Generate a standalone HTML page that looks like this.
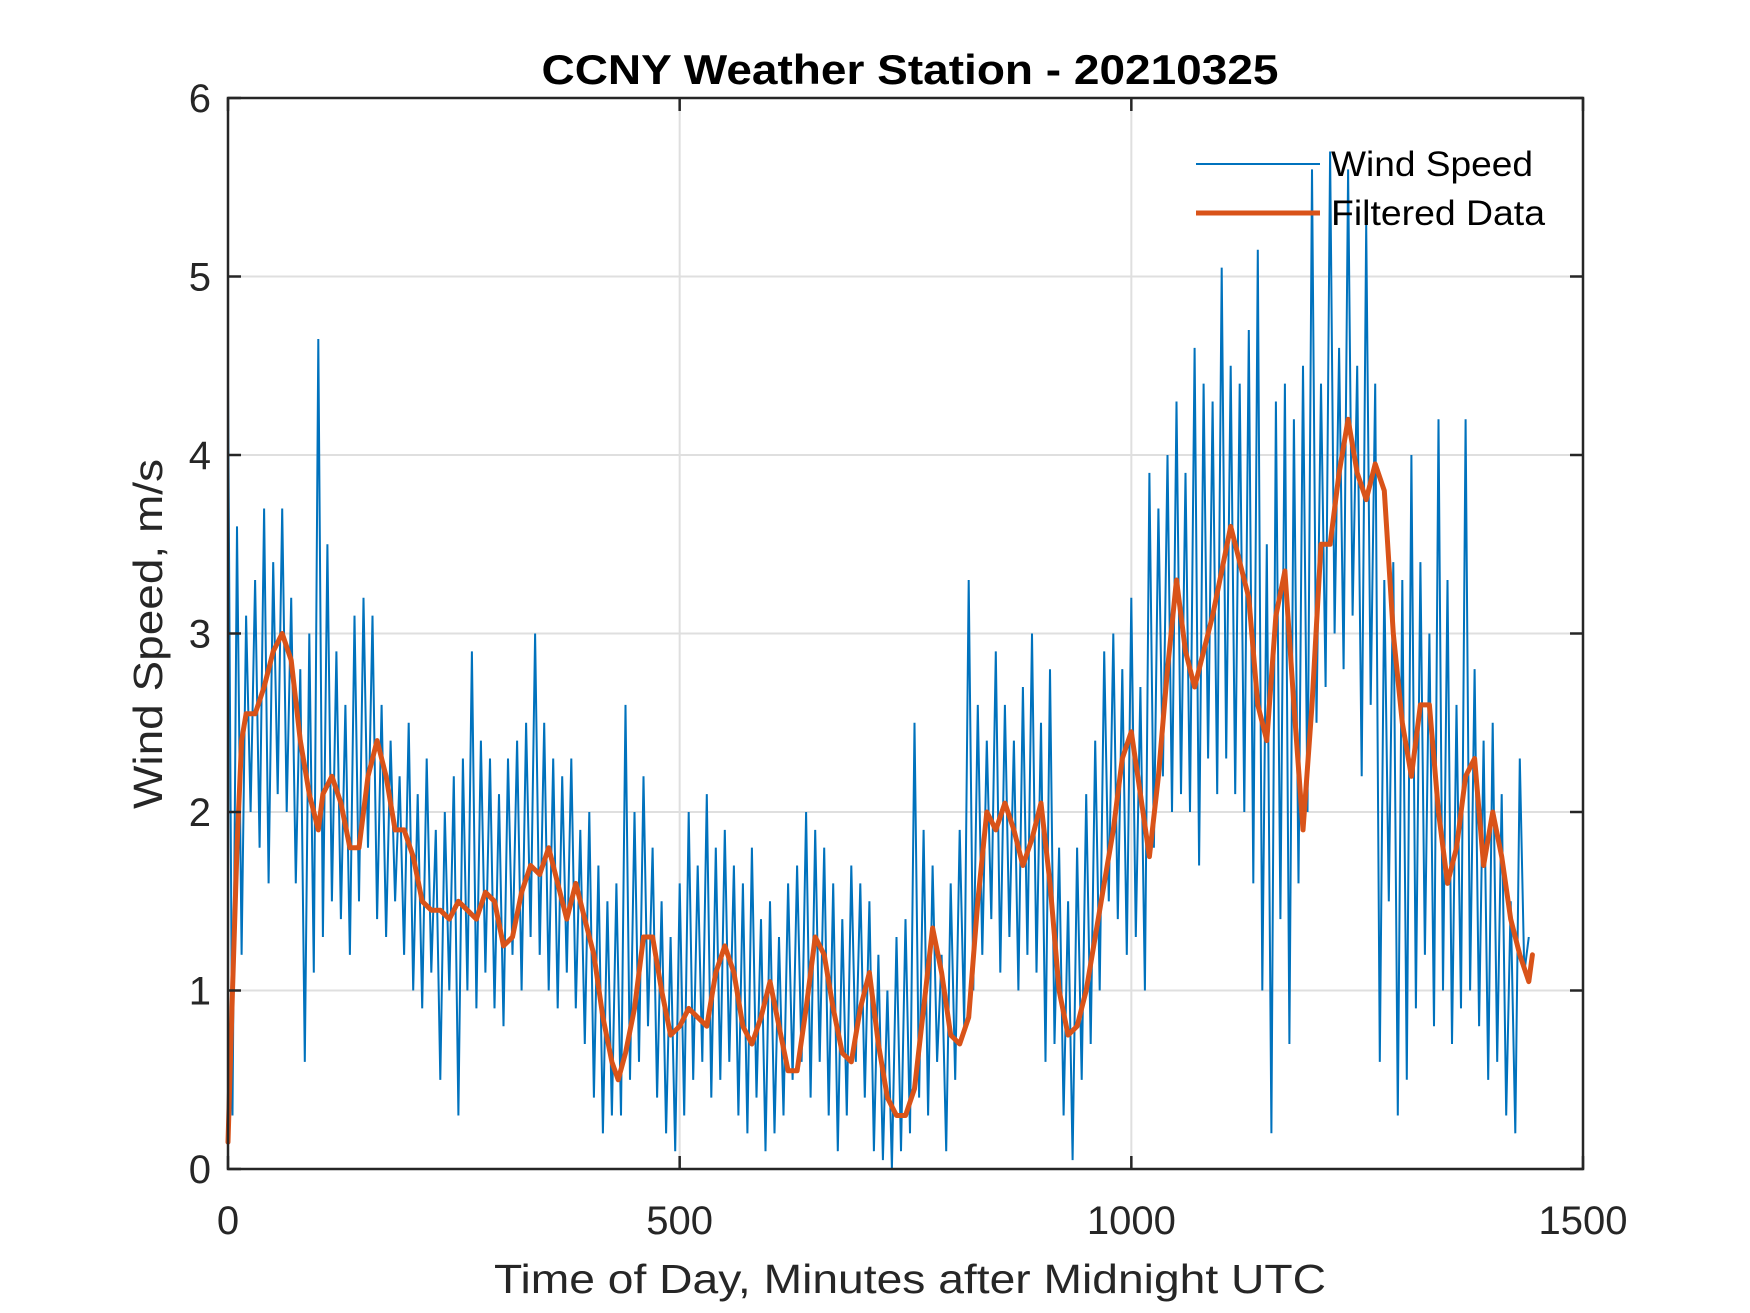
<!DOCTYPE html>
<html><head><meta charset="utf-8"><style>
html,body{margin:0;padding:0;background:#fff;}
svg{display:block;font-family:"Liberation Sans",Arial,sans-serif;}
</style></head><body>
<svg id="chart" width="1750" height="1313" viewBox="0 0 1750 1313">
<rect x="0" y="0" width="1750" height="1313" fill="#fff"/>
<g id="grid"></g>
<g id="series"></g>
<g id="axes"></g>
<text x="910" y="84" text-anchor="middle" font-weight="bold" font-size="42" textLength="737" lengthAdjust="spacingAndGlyphs">CCNY Weather Station - 20210325</text>
<text x="910" y="1293" text-anchor="middle" font-size="41" fill="#262626" textLength="832" lengthAdjust="spacingAndGlyphs">Time of Day, Minutes after Midnight UTC</text>
<text transform="translate(162,634) rotate(-90)" text-anchor="middle" font-size="41" fill="#262626" textLength="350" lengthAdjust="spacingAndGlyphs">Wind Speed, m/s</text>
<g>
<line x1="1196" y1="164" x2="1320" y2="164" stroke="#0072BD" stroke-width="2"/>
<text x="1331" y="176" font-size="35" textLength="202" lengthAdjust="spacingAndGlyphs">Wind Speed</text>
<line x1="1196" y1="213" x2="1320" y2="213" stroke="#D95319" stroke-width="5"/>
<text x="1331" y="225" font-size="35" textLength="214" lengthAdjust="spacingAndGlyphs">Filtered Data</text>
</g>
</svg>
<script>
const rawStep = 5;
const rawValues = [
4.4,0.3,3.6,1.2,3.1,2.0,3.3,1.8,3.7,1.6,
3.4,2.1,3.7,2.0,3.2,1.6,2.8,0.6,3.0,1.1,
4.65,1.3,3.5,1.5,2.9,1.4,2.6,1.2,3.1,1.5,
3.2,1.8,3.1,1.4,2.6,1.3,2.4,1.5,2.2,1.2,
2.5,1.0,2.1,0.9,2.3,1.1,1.9,0.5,2.0,1.0,
2.2,0.3,2.3,1.0,2.9,0.9,2.4,1.1,2.3,0.9,
2.1,0.8,2.3,1.2,2.4,1.0,2.5,1.3,3.0,1.2,
2.5,1.0,2.3,0.9,2.2,1.1,2.3,0.9,1.9,0.7,
2.0,0.4,1.7,0.2,1.5,0.3,1.6,0.3,2.6,0.5,
2.0,0.6,2.2,0.8,1.8,0.4,1.5,0.2,1.3,0.1,
1.6,0.3,2.0,0.5,1.7,0.6,2.1,0.4,1.8,0.5,
1.9,0.6,1.7,0.3,1.6,0.2,1.8,0.4,1.4,0.1,
1.5,0.2,1.3,0.3,1.6,0.5,1.7,0.6,2.0,0.4,
1.9,0.6,1.8,0.3,1.6,0.1,1.4,0.3,1.7,0.6,
1.6,0.4,1.5,0.1,1.2,0.05,1.0,0.0,1.3,0.1,
1.4,0.2,2.5,0.4,1.9,0.3,1.7,0.6,1.2,0.1,
1.6,0.5,1.9,0.8,3.3,1.0,2.6,1.2,2.4,1.4,
2.9,1.1,2.6,1.3,2.4,1.0,2.7,1.2,3.0,1.1,
2.5,0.6,2.8,0.7,1.8,0.3,1.5,0.05,1.8,0.5,
2.1,0.7,2.4,1.0,2.9,1.5,3.0,1.4,2.8,1.2,
3.2,1.3,2.7,1.0,3.9,1.8,3.7,2.2,4.0,2.0,
4.3,2.1,3.9,2.0,4.6,1.7,4.4,2.3,4.3,2.1,
5.05,2.3,4.5,2.1,4.4,2.0,4.7,1.6,5.15,1.0,
3.5,0.2,4.3,1.4,4.4,0.7,4.2,1.6,4.5,2.0,
5.6,2.5,4.4,2.7,5.7,3.0,4.6,2.8,5.6,3.1,
4.5,2.2,5.3,2.6,4.4,0.6,3.3,1.5,3.4,0.3,
3.3,0.5,4.0,0.9,3.4,1.2,3.0,0.8,4.2,1.0,
3.3,0.7,2.6,0.9,4.2,1.0,2.8,0.8,2.4,0.5,
2.5,0.6,2.1,0.3,1.5,0.2,2.3,1.1,1.3
];
const filtTimes = [0,5,10,15,20,30,40,50,60,70,80,90,100,105,115,125,135,145,155,165,175,185,195,205,215,225,235,245,255,265,275,285,295,305,315,325,335,345,355,365,375,385,395,405,415,425,432,440,450,460,470,480,490,500,510,520,530,540,550,560,570,580,590,600,610,620,630,640,650,660,670,680,690,700,710,720,730,740,750,760,770,780,790,800,810,820,830,840,850,860,870,880,890,900,910,920,930,940,950,960,970,980,990,1000,1010,1020,1030,1040,1050,1060,1070,1080,1090,1100,1110,1120,1130,1140,1150,1160,1170,1180,1190,1200,1210,1220,1230,1240,1250,1260,1270,1280,1290,1300,1310,1320,1330,1340,1350,1360,1370,1380,1390,1400,1410,1420,1430,1440,1444];
const filtValues = [0.15,1.0,1.8,2.4,2.55,2.55,2.7,2.9,3.0,2.85,2.4,2.1,1.9,2.1,2.2,2.05,1.8,1.8,2.2,2.4,2.2,1.9,1.9,1.75,1.5,1.45,1.45,1.4,1.5,1.45,1.4,1.55,1.5,1.25,1.3,1.55,1.7,1.65,1.8,1.6,1.4,1.6,1.4,1.2,0.85,0.6,0.5,0.65,0.9,1.3,1.3,1.0,0.75,0.8,0.9,0.85,0.8,1.1,1.25,1.1,0.8,0.7,0.85,1.05,0.8,0.55,0.55,0.9,1.3,1.2,0.9,0.65,0.6,0.9,1.1,0.7,0.4,0.3,0.3,0.45,0.9,1.35,1.1,0.75,0.7,0.85,1.5,2.0,1.9,2.05,1.9,1.7,1.85,2.05,1.6,1.0,0.75,0.8,1.0,1.3,1.6,1.9,2.3,2.45,2.1,1.75,2.2,2.8,3.3,2.9,2.7,2.9,3.1,3.35,3.6,3.4,3.2,2.6,2.4,3.1,3.35,2.6,1.9,2.6,3.5,3.5,3.9,4.2,3.9,3.75,3.95,3.8,3.0,2.5,2.2,2.6,2.6,2.0,1.6,1.8,2.2,2.3,1.7,2.0,1.75,1.4,1.2,1.05,1.2];
const xTicks = [0,500,1000,1500];
const yTicks = [0,1,2,3,4,5,6];

const L=228,R=1583,T=98,B=1169;
const xMin=0,xMax=1500,yMin=0,yMax=6;
function xs(v){return L+(v-xMin)/(xMax-xMin)*(R-L);}
function ys(v){return B-(v-yMin)/(yMax-yMin)*(B-T);}
const NS="http://www.w3.org/2000/svg";
function mk(tag,attrs,parent){const e=document.createElementNS(NS,tag);for(const k in attrs)e.setAttribute(k,attrs[k]);parent.appendChild(e);return e;}
const grid=document.getElementById('grid'),series=document.getElementById('series'),axes=document.getElementById('axes');

xTicks.forEach(t=>{
  if(t>xMin&&t<xMax){const g=mk('line',{x1:xs(t),x2:xs(t),y1:T,y2:B,stroke:'#dfdfdf','stroke-width':2},grid);
  
  }
  const tk1=mk('line',{x1:xs(t),x2:xs(t),y1:B,y2:B-13,stroke:'#262626','stroke-width':2.5},axes);
  
  
  const tk2=mk('line',{x1:xs(t),x2:xs(t),y1:T,y2:T+13,stroke:'#262626','stroke-width':2.5},axes);
  
  
  const lb=mk('text',{x:xs(t),y:1234,'text-anchor':'middle','font-size':40,fill:'#262626'},axes);
  lb.textContent=t;
  
  
});
yTicks.forEach(t=>{
  if(t>yMin&&t<yMax){const g=mk('line',{x1:L,x2:R,y1:ys(t),y2:ys(t),stroke:'#dfdfdf','stroke-width':2},grid);
  
  }
  const tk1=mk('line',{x1:L,x2:L+13,y1:ys(t),y2:ys(t),stroke:'#262626','stroke-width':2.5},axes);
  
  
  const tk2=mk('line',{x1:R,x2:R-13,y1:ys(t),y2:ys(t),stroke:'#262626','stroke-width':2.5},axes);
  
  
  const lb=mk('text',{x:211,y:ys(t)+14,'text-anchor':'end','font-size':40,fill:'#262626'},axes);
  lb.textContent=t;
  
  
});
const box=mk('rect',{x:L,y:T,width:R-L,height:B-T,fill:'none',stroke:'#262626','stroke-width':2.5},axes);



const rawPts=rawValues.map((v,i)=>xs(i*rawStep).toFixed(1)+','+ys(v).toFixed(1)).join(' ');
const raw=mk('polyline',{points:rawPts,fill:'none',stroke:'#0072BD','stroke-width':2,'stroke-linejoin':'miter'},series);


const fPts=filtValues.map((v,i)=>xs(filtTimes[i]).toFixed(1)+','+ys(v).toFixed(1)).join(' ');
const filt=mk('polyline',{points:fPts,fill:'none',stroke:'#D95319','stroke-width':5,'stroke-linejoin':'round','stroke-linecap':'round'},series);


</script>
</body></html>
